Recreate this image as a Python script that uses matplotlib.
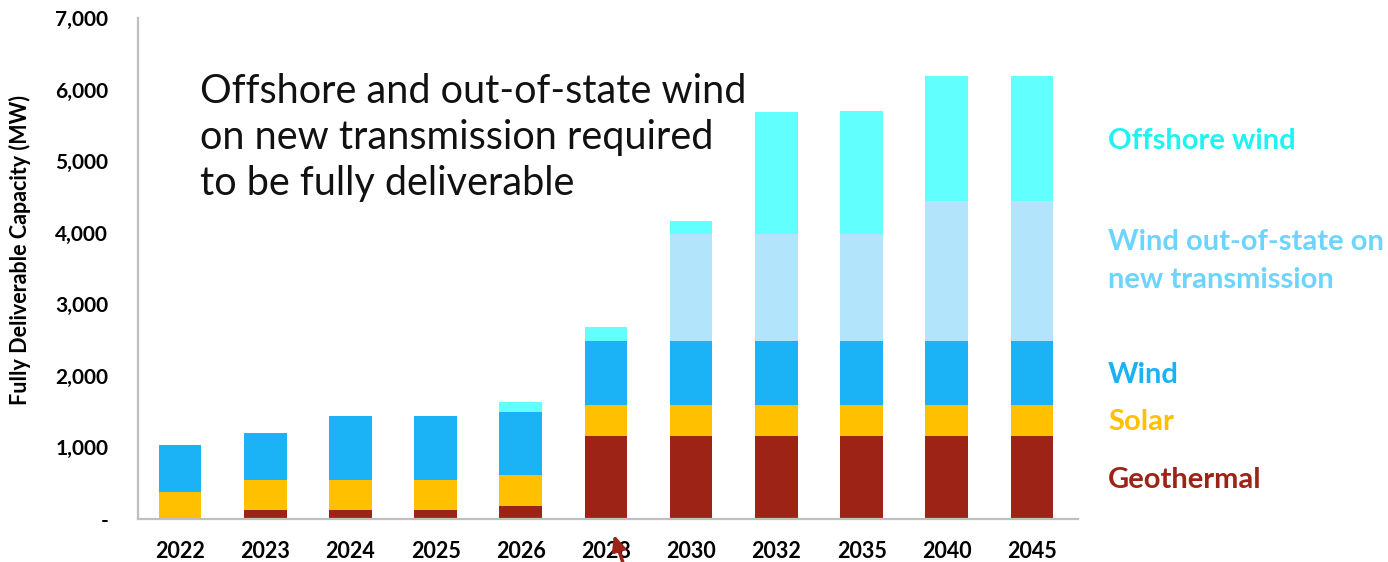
import matplotlib
matplotlib.use("Agg")
import matplotlib.pyplot as plt
import numpy as np

years = ["2022", "2023", "2024", "2025", "2026", "2028", "2030", "2032", "2035", "2040", "2045"]
geothermal = [0, 125, 125, 125, 180, 1160, 1160, 1160, 1160, 1160, 1160]
solar = [375, 415, 415, 415, 435, 430, 430, 430, 430, 430, 430]
wind = [660, 660, 900, 900, 885, 900, 900, 900, 900, 900, 900]
wind_out_of_state = [0, 0, 0, 0, 0, 0, 1495, 1495, 1495, 1955, 1955]
offshore_wind = [0, 0, 0, 0, 135, 195, 185, 1705, 1715, 1740, 1740]

series_names = ["Geothermal", "Solar", "Wind", "Wind out-of-state on\nnew transmission", "Offshore wind"]
series_values = [geothermal, solar, wind, wind_out_of_state, offshore_wind]
bar_colors = ["#9C2316", "#FFC000", "#1BB3F6", "#B2E5FB", "#62FFFF"]
label_colors = ["#9C2316", "#FFC000", "#1AB2F5", "#6DD4FF", "#1EF2F2"]
label_y = [480, 422, 375, 261, 141]  # figure pixel rows from top

yticks = [0, 1000, 2000, 3000, 4000, 5000, 6000, 7000]
ytick_labels = ["-", "1,000", "2,000", "3,000", "4,000", "5,000", "6,000", "7,000"]

W, H = 1388, 562
fig = plt.figure(figsize=(W / 100, H / 100), dpi=100)
ax = fig.add_axes([138 / W, 1 - 519 / H, (1078 - 138) / W, (519 - 18) / H])

x = np.arange(len(years))
bottom = np.zeros(len(years))
for vals, col in zip(series_values, bar_colors):
    vals = np.array(vals, dtype=float)
    ax.bar(x, vals, width=0.5, bottom=bottom, color=col, linewidth=0)
    bottom += vals

ax.set_xlim(-0.493, 10.54)
ax.set_ylim(0, 7000)
ax.set_yticks(yticks)
ax.set_yticklabels(ytick_labels, fontsize=15, fontweight="bold", family="Lato")
ax.set_xticks(x)
ax.set_xticklabels(years, fontsize=15.5, fontweight="bold", family="Lato")
ax.tick_params(axis="both", length=0)
ax.tick_params(axis="y", pad=21.5)
ax.tick_params(axis="x", pad=15.5)
for s in ["top", "right"]:
    ax.spines[s].set_visible(False)
for s in ["left", "bottom"]:
    ax.spines[s].set_color("#BFBFBF")
    ax.spines[s].set_linewidth(1.6)

fig.text(20 / W, 1 - 250 / H, "Fully Deliverable Capacity (MW)", rotation=90,
         ha="center", va="center", fontsize=15.5, fontweight="bold", family="Lato")

fig.text(200 / W, 1 - 73 / H,
         "Offshore and out-of-state wind\non new transmission required\nto be fully deliverable",
         ha="left", va="top", fontsize=28.5, family="Lato", fontweight="normal",
         linespacing=1.3, color="#111111")

for name, col, yy in zip(series_names, label_colors, label_y):
    fig.text(1108 / W, 1 - yy / H, name, ha="left", va="center", fontsize=21,
             fontweight="bold", family="Lato", color=col, linespacing=1.55)

ax.annotate("", xy=(613 / W, 1 - 532 / H), xytext=(624 / W, 1 - 566 / H),
            xycoords="figure fraction", textcoords="figure fraction",
            arrowprops=dict(arrowstyle="-|>,head_length=0.9,head_width=0.4",
                            color="#9C2316", lw=2.5))

fig.savefig("out.png", dpi=100)
